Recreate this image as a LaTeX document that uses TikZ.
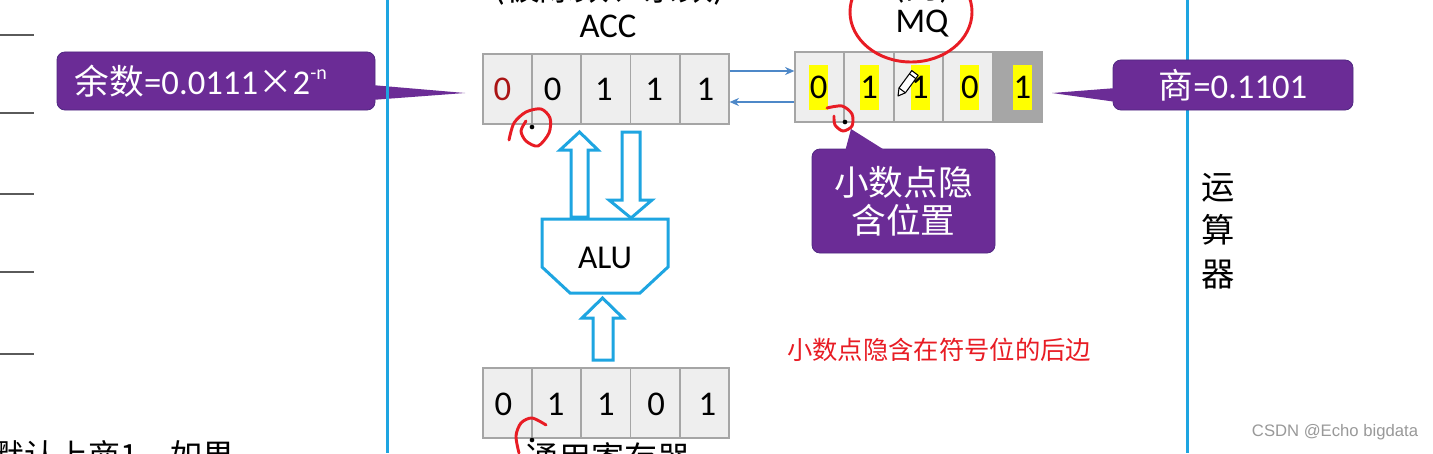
\documentclass[tikz,border=0pt]{standalone}
\usepackage{fontspec}
\setmainfont{Carlito}
\newfontfamily\cjk{Noto Sans CJK SC}
\newfontfamily\wmfont{Liberation Sans}
\usetikzlibrary{arrows.meta,calc}
\definecolor{pur}{RGB}{107,44,150}
\definecolor{purdark}{RGB}{80,40,130}
\definecolor{alublue}{RGB}{30,165,225}
\definecolor{markred}{RGB}{232,28,36}
\definecolor{accred}{RGB}{170,20,20}
\definecolor{cellfill}{RGB}{238,238,238}
\definecolor{cellgray}{RGB}{165,165,165}
\definecolor{darkcell}{RGB}{166,166,166}
\definecolor{hl}{RGB}{255,255,0}
\definecolor{arrblue}{RGB}{78,136,200}
\definecolor{leftgray}{RGB}{90,90,90}
\begin{document}
\begin{tikzpicture}[x=0.75pt,y=-0.75pt,
  regcell/.style={draw=cellgray, fill=cellfill, line width=1.2pt, minimum width=36.75pt, minimum height=52.5pt, inner sep=0pt},
  digit/.style={font=\fontsize{26}{30}\selectfont, inner sep=0pt},
  callout/.style={fill=pur, draw=purdark, line width=0.6pt, rounded corners=6pt, inner sep=0pt},
  ctext/.style={text=white, inner sep=0pt},
  blockarrow/.style={draw=alublue, line width=2.25pt, fill=white, line join=miter},
  smallarrow/.style={draw=arrblue, line width=1.1pt, -{Stealth[length=7pt,width=6pt]}},
  redmark/.style={draw=markred, line width=2.2pt, line cap=round, line join=round},
  vline/.style={draw=alublue, line width=2.25pt},
  ptdot/.style={fill=black, circle, inner sep=0pt, minimum size=3.5pt},
]
\useasboundingbox (0,0) rectangle (1433,453);
\clip (0,0) rectangle (1433,453);
\fill[white] (0,0) rectangle (1433,453);

% left gray lines
\foreach \yy in {35,113,194,272,354}
  \draw[leftgray, line width=1.1pt] (0,\yy) -- (34,\yy);

% bottom-left cut text
\node[anchor=base west, inner sep=0pt, font=\cjk\fontsize{24}{28}\selectfont] (btxt) at (-8,467) {默认上商1，如果};

% right vertical blue line (under the callout)
\draw[vline] (1187,0) -- (1187,453);

% top cut labels
\node[anchor=base, inner sep=0pt, font=\fontsize{26}{30}\selectfont] (acctop) at (609,1) {({\cjk 被除数、余数})};
\node[anchor=base, inner sep=0pt, font=\fontsize{26}{30}\selectfont] (mqtop) at (922,-1) {({\cjk 商})};

% labels
\node[inner sep=0pt, font=\fontsize{26}{30}\selectfont] (acclbl) at (608,26.5) {ACC};
\node[inner sep=0pt, font=\fontsize{26}{30}\selectfont] (mqlbl) at (922,23.5) {MQ};

% ACC register
\node[regcell] (acc1) at (507.5,89) {};
\node[regcell] (acc2) at (556.7,89) {};
\node[regcell] (acc3) at (605.9,89) {};
\node[regcell] (acc4) at (655.1,89) {};
\node[regcell] (acc5) at (704.3,89) {};
\node[digit, text=accred] at ($(acc1)+(-5,0)$) {0};
\node[digit] at ($(acc2)+(-4,0)$) {0};
\node[digit] at ($(acc3)+(-2,0)$) {1};
\node[digit] at ($(acc4)+(-1,0)$) {1};
\node[digit] at ($(acc5)+(1,0)$) {1};

% MQ register
\node[regcell] (mq1) at (819.7,87) {};
\node[regcell] (mq2) at (869.1,87) {};
\node[regcell] (mq3) at (918.5,87) {};
\node[regcell] (mq4) at (967.9,87) {};
\node[regcell, fill=darkcell] (mq5) at (1017.3,87) {};
\foreach \i/\dx in {1/-1,2/0,3/1.5,4/2,5/5}
  \fill[hl] ($(mq\i)+(\dx-9.5,-22)$) rectangle ($(mq\i)+(\dx+9.5,23)$);
\node[digit] at ($(mq1)+(-1,0)$) {0};
\node[digit] at ($(mq2)+(0,0)$) {1};
\node[digit] at ($(mq3)+(1.5,0)$) {1};
\node[digit] at ($(mq4)+(2,0)$) {0};
\node[digit] at ($(mq5)+(5,0)$) {1};

% pencil cursor
\begin{scope}[line width=0.8pt]
\filldraw[draw=black, fill=white, line join=round] (898,96) -- (905.4,92.8) -- (918.2,75.4) -- (911.8,70.6) -- (899,88) -- cycle;
\draw (905.4,92.8) -- (899,88);
\draw (915.8,78.6) -- (909.4,73.8);
\end{scope}

% ACC <-> MQ arrows
\draw[smallarrow] ($(acc5.east)+(0,-18)$) -- ($(mq1.west)+(0,-16)$);
\draw[smallarrow] ($(mq1.west)+(0,15)$) -- ($(acc5.east)+(0,13)$);

% general register
\node[regcell] (gr1) at (507.5,403) {};
\node[regcell] (gr2) at (556.7,403) {};
\node[regcell] (gr3) at (605.9,403) {};
\node[regcell] (gr4) at (655.1,403) {};
\node[regcell] (gr5) at (704.3,403) {};
\node[digit] at ($(gr1)+(-4,1)$) {0};
\node[digit] at ($(gr2)+(-1,1)$) {1};
\node[digit] at ($(gr3)+(0,1)$) {1};
\node[digit] at ($(gr4)+(1,1)$) {0};
\node[digit] at ($(gr5)+(3,1)$) {1};
\node[anchor=base west, inner sep=0pt, font=\cjk\fontsize{24.75}{28}\selectfont] (grlbl) at (525,470) {通用寄存器};

% ALU and block arrows
\draw[blockarrow] (542,219) -- (668,219) -- (668,267) -- (640,293) -- (570,293) -- (542,267) -- cycle;
\node[inner sep=0pt, font=\fontsize{25}{30}\selectfont] (alu) at (605,258) {ALU};
\draw[blockarrow] (571,217) -- (571,150) -- (560,150) -- (579.5,132) -- (598,150) -- (588,150) -- (588,217) -- cycle;
\draw[blockarrow] (622,132) -- (640,132) -- (640,200) -- (652,200) -- (631,218) -- (609,200) -- (622,200) -- cycle;
\draw[blockarrow] (593,360) -- (593,318) -- (582,318) -- (602.5,298) -- (623,318) -- (613,318) -- (613,360) -- cycle;

% left callout
\node[callout, minimum width=238.5pt, minimum height=43.5pt] (rem) at (216,81) {};
\fill[pur] ($(rem.east)+(-4,4)$) -- (465,93) -- ($(rem.east)+(-4,19)$) -- cycle;
\node[ctext, anchor=west, font=\fontsize{26}{30}\selectfont] (remtxt) at ($(rem.west)+(18,0)$)
  {{\cjk 余数}=0.0111{\cjk ×}2\raisebox{0.42em}{\fontsize{15}{15}\selectfont -n}};

% left vertical blue line (over the pointer)
\draw[vline] (387,0) -- (387,453);

% right callout
\node[callout, minimum width=180pt, minimum height=37.5pt, text=white, font=\fontsize{26}{30}\selectfont] (quot) at (1233,85) {{\cjk 商}=0.1101};
\fill[pur] ($(quot.west)+(4,3)$) -- (1052,93) -- ($(quot.west)+(4,17)$) -- cycle;

% point callout
\node[callout, minimum width=137.25pt, minimum height=78pt, text=white, align=center, font=\cjk\fontsize{26}{28.5}\selectfont] (pos) at (903.5,201) {小数点隐\\含位置};
\fill[pur] ($(pos.north)+(-58.5,3)$) -- (851,129) -- ($(pos.north)+(-16.5,3)$) -- cycle;

% red ellipse around MQ
\draw[redmark] (911,12) ellipse [x radius=61, y radius=50];

% dots and red marks
\node[ptdot] (dacc) at (532,127) {};
\node[ptdot] (dmq) at (845,122) {};
\node[ptdot] (dgr) at (532,440) {};
\draw[redmark] plot[smooth] coordinates {(509,140) (514,123) (526,112) (541,109) (550,118) (549,133) (538,146) (526,141) (521,131) (526,121)};
\draw[redmark] plot[smooth] coordinates {(827,108) (842,106) (852,114) (852,126) (843,131) (835,125) (834,116)};
\draw[redmark] plot[smooth] coordinates {(519,453) (516,436) (521,423) (532,418) (546,425)};

% 运算器
\node[align=center, inner sep=0pt, font=\cjk\fontsize{25}{32.5}\selectfont] (yunsuan) at (1218,231) {运\\算\\器};

% red note
\node[inner sep=0pt, text=markred, font=\cjk\fontsize{19}{22}\selectfont] (note) at (939,350) {小数点隐含在符号位的后边};

% watermark
\node[inner sep=0pt, text=black!40, font=\wmfont\fontsize{12.5}{14}\selectfont] (wm) at (1335,432) {CSDN @Echo bigdata};
\end{tikzpicture}
\end{document}
